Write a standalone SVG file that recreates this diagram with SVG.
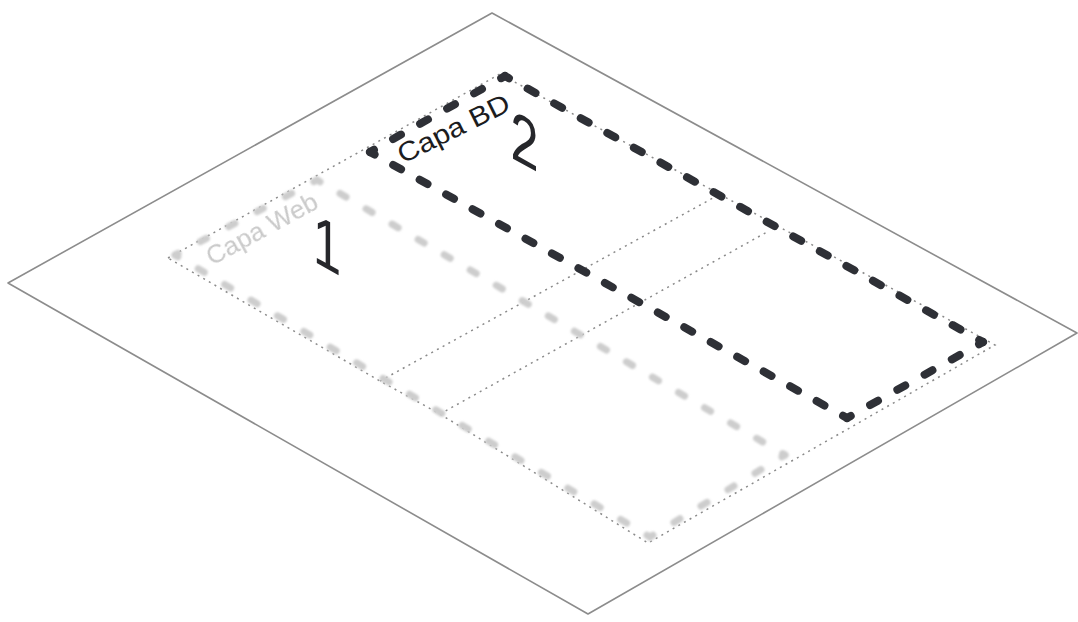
<svg xmlns="http://www.w3.org/2000/svg" width="1078" height="622" viewBox="0 0 1078 622">
<defs>
<filter id="soft" x="-10%" y="-10%" width="120%" height="120%"><feGaussianBlur stdDeviation="1.3"/></filter>
<filter id="softText" x="-10%" y="-10%" width="120%" height="120%"><feGaussianBlur stdDeviation="0.7"/></filter>
</defs>
<style>
.plate{fill:none;stroke:#8c8c8c;stroke-width:1.6;stroke-linejoin:round}
.dot{fill:none;stroke:#8a8a8a;stroke-width:1.5;stroke-dasharray:2 4.5}
.web{fill:none;stroke:#cdcdcd;stroke-width:7;stroke-linecap:round}
.bd{fill:none;stroke:#2e3036;stroke-width:8;stroke-linecap:round}
.lbl{font-family:"Liberation Sans",Arial,sans-serif}
</style>
<rect width="1078" height="622" fill="#ffffff"/>
<g id="plate">
<polygon class="plate" points="492,13 1077,333 588,614 8,283"/>
</g>
<g id="grid">
<path class="dot" d="M168,258 L500,74 L995,345 L648,543 L440,414 L380,381 Z"/>
<path class="dot" d="M380,381 L713,198"/>
<path class="dot" d="M440,414 L767,232"/>
</g>
<g id="capa-web">
<g filter="url(#soft)">
<path class="web" d="M175,255 L317,180" style="stroke-dasharray:7 25.1;stroke-dashoffset:3.5"/>
<path class="web" d="M317,180 L785,455" style="stroke-dasharray:7 23.2;stroke-dashoffset:3.5"/>
<path class="web" d="M785,455 L650,537" style="stroke-dasharray:7 24.6;stroke-dashoffset:3.5"/>
<path class="web" d="M650,537 L175,255" style="stroke-dasharray:7 23.7;stroke-dashoffset:3.5"/>
</g>
<text class="lbl" filter="url(#softText)" transform="translate(212,266) rotate(-28.5)" font-size="26" fill="#c9c9c9" textLength="123" lengthAdjust="spacingAndGlyphs">Capa Web</text>
</g>
<g id="capa-bd">
<path class="bd" d="M370,152 L505,76" style="stroke-dasharray:9 22;stroke-dashoffset:4.5"/>
<path class="bd" d="M505,76 L983,342" style="stroke-dasharray:9 21.4;stroke-dashoffset:4.5"/>
<path class="bd" d="M983,342 L847,418" style="stroke-dasharray:9 22.2;stroke-dashoffset:4.5"/>
<path class="bd" d="M847,418 L370,152" style="stroke-dasharray:9 21.3;stroke-dashoffset:4.5"/>
<text class="lbl" transform="translate(403,164) rotate(-26.5)" font-size="27" fill="#1c1c1e" textLength="122" lengthAdjust="spacingAndGlyphs">Capa BD</text>
</g>
<g id="num-1">
<text class="lbl" transform="translate(313,261) skewY(29) scale(0.72,1)" font-size="70" fill="#26272b">1</text>
</g>
<g id="num-2">
<text class="lbl" transform="translate(512,158) skewY(29) scale(0.72,1)" x="-2" font-size="70" fill="#26272b">2</text>
</g>
</svg>
